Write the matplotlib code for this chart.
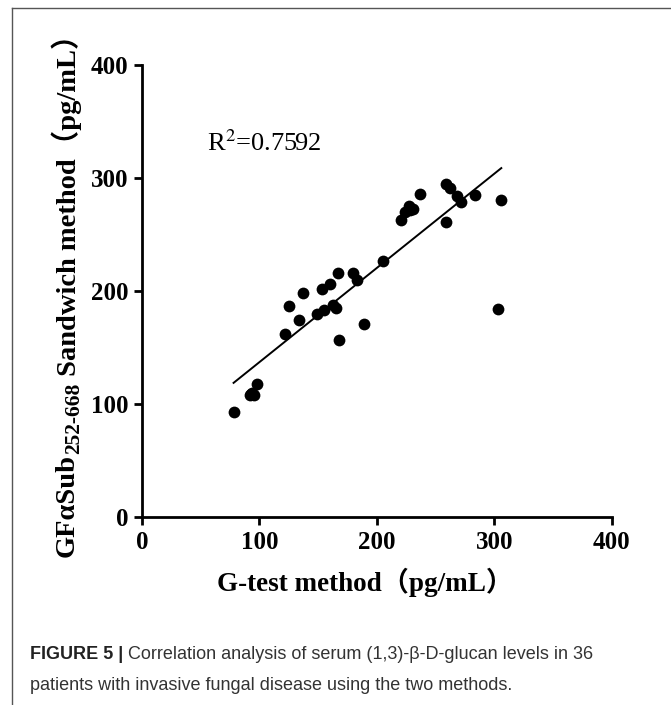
"""Figure 5: G-test vs GFaSub252-668 sandwich method, with linear fit."""

import matplotlib
matplotlib.use("Agg")
import matplotlib.pyplot as plt
from matplotlib.lines import Line2D
import numpy as np

# G-test method (pg/mL)
g_test = [78, 92, 93, 95, 98,
          122, 125, 134, 137, 149, 153, 155, 160, 163, 165, 167, 168,
          180, 183, 189, 205,
          221, 224, 227, 228, 231, 237, 259, 262, 268, 272, 284, 306, 259, 303]
# GFaSub252-668 sandwich method (pg/mL)
sandwich = [93, 108, 109, 108, 118,
            162, 187, 174, 198, 180, 202, 183, 206, 188, 185, 216, 157,
            216, 210, 171, 227,
            263, 270, 275, 272, 273, 286, 295, 291, 284, 279, 285, 281, 261, 184]
# one point overlaps in the low cluster
g_test.append(94)
sandwich.append(110)

r2_label = "R$^2$=0.7592"
ticks = [0, 100, 200, 300, 400]

SERIF = ["Liberation Serif", "Noto Sans CJK SC"]
plt.rcParams["mathtext.fontset"] = "stix"

fig = plt.figure(figsize=(6.71, 7.05), dpi=100)
ax = fig.add_axes([0.2116, 0.2667, 0.700, 0.641])

x = np.array(g_test, dtype=float)
y = np.array(sandwich, dtype=float)
ax.scatter(x, y, s=72, color="black", zorder=3, linewidths=0)

slope, intercept = np.polyfit(x, y, 1)
xs = np.array([x.min(), x.max()])
ax.plot(xs, slope * xs + intercept, color="black", lw=1.4)

ax.set_xlim(0, 400)
ax.set_ylim(0, 400)
ax.set_xticks(ticks)
ax.set_yticks(ticks)
for side in ("top", "right"):
    ax.spines[side].set_visible(False)
for side in ("left", "bottom"):
    ax.spines[side].set_linewidth(2)
ax.tick_params(width=2, length=6, labelsize=18, pad=4)
for lab in ax.get_xticklabels() + ax.get_yticklabels():
    lab.set_family(SERIF)
    lab.set_fontweight("bold")

ax.text(55, 331, r2_label, fontsize=19, family=SERIF, va="center")

fig.text(0.544, 0.1745, "G-test method（pg/mL）", fontsize=19.5, family=SERIF,
         fontweight="bold", ha="center", va="center")

# y label built in pieces so the subscript and the full-width brackets both render
ylab_kw = dict(family=SERIF, fontweight="bold", rotation=90)
t1 = fig.text(0.1, 0.21, "GFαSub", fontsize=20.5, ha="center", va="bottom", **ylab_kw)
t2 = ax.annotate("252-668", xy=(0.5, 1), xycoords=t1, xytext=(5, 0),
                 textcoords="offset points", fontsize=15.5, ha="center", va="bottom",
                 **ylab_kw)
ax.annotate(" Sandwich method（pg/mL）", xy=(0.5, 1), xycoords=t2, xytext=(-5, 0),
            textcoords="offset points", fontsize=20.5, ha="center", va="bottom",
            **ylab_kw)

cap_kw = dict(fontsize=13, family="Liberation Sans", va="baseline")
fig.text(0.045, 0.065, "FIGURE 5 |", fontweight="bold", color="#222222", **cap_kw)
c1 = fig.texts[-1]
ax.annotate(" Correlation analysis of serum (1,3)-β-D-glucan levels in 36",
            xy=(1, 0.065), xycoords=(c1, "figure fraction"), color="#333333", **cap_kw)
fig.text(0.045, 0.021, "patients with invasive fungal disease using the two methods.",
         color="#333333", **cap_kw)

# frame around the figure panel (open at right and bottom)
fig.add_artist(Line2D([12 / 671, 1], [1 - 8 / 705] * 2, color="#555555", lw=1))
fig.add_artist(Line2D([12 / 671] * 2, [0, 1 - 8 / 705], color="#555555", lw=1))

fig.savefig("out.png", dpi=100)
